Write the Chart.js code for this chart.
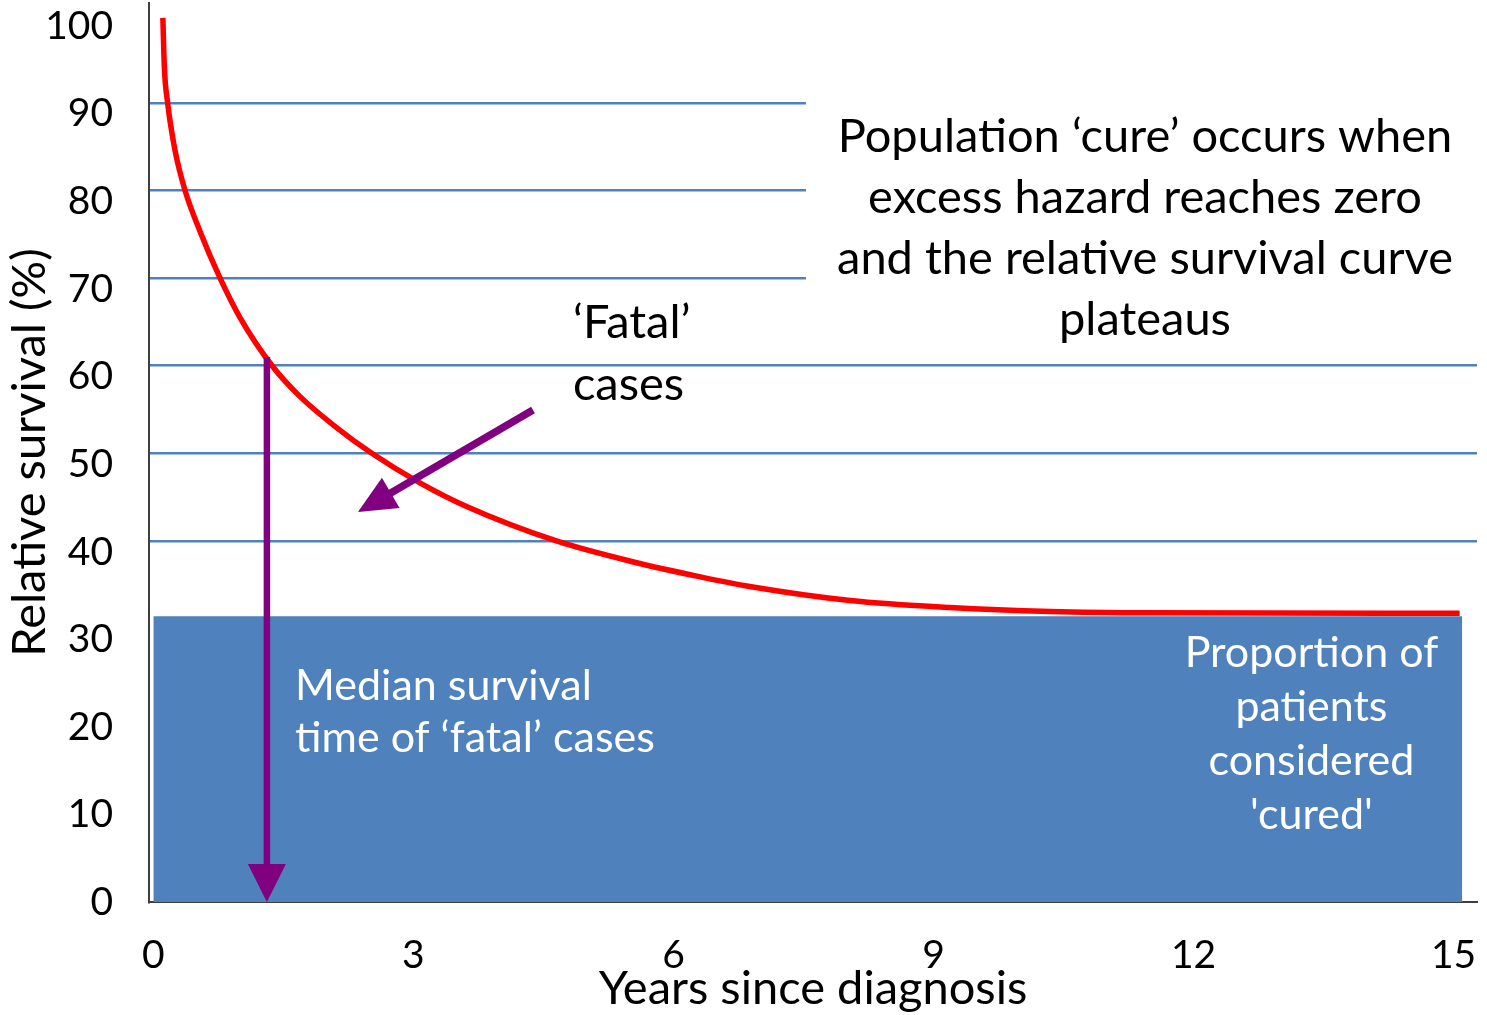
<!DOCTYPE html>
<html>
<head>
<meta charset="utf-8">
<script src="https://cdn.jsdelivr.net/npm/chart.js@4.4.1/dist/chart.umd.min.js"></script>
<style>
html, body { margin: 0; padding: 0; background: #fff; }
</style>
</head>
<body>
<canvas id="chart" width="1487" height="1015"></canvas>
<script>
// relative survival curve
const years    = [0.11, 0.127, 0.165, 0.25, 0.366, 0.54, 0.77, 1.0, 1.37, 1.69, 2.08, 2.52, 3.08, 3.62, 4.65, 5.54, 6.31, 6.88, 8.04, 9.19, 10.35, 11.5, 15.07];
const survival = [99.7, 94.1, 90.0, 84.6, 80.0, 75.3, 70.0, 65.5, 60.0, 56.5, 53.2, 50.0, 46.6, 43.9, 40.0, 37.6, 35.9, 34.8, 33.2, 32.4, 31.95, 31.8, 31.75];

// block of 'cured' patients
const curedYears = [0, 15.1];
const curedLevel = [31.4, 31.4];

// arrows: [start, tip] in data units
const medianArrow = [{x: 1.31, y: 61.0}, {x: 1.31, y: -1.2}];
const fatalArrow  = [{x: 4.38, y: 54.95}, {x: 2.36, y: 43.3}];

const xTicks = [0, 3, 6, 9, 12, 15];
const yTicks = [0, 10, 20, 30, 40, 50, 60, 70, 80, 90, 100];

const FONT = 'Lato';
const GRID_BLUE = '#4f81bd';
const FILL_BLUE = '#4f81bd';
const PURPLE = '#800080';

drawArrow = (ctx, x0, y0, x1, y1, width, headLen, headHalf) => {
    let ang = Math.atan2(y1 - y0, x1 - x0);
    let bx = x1 - (headLen - 1) * Math.cos(ang);
    let by = y1 - (headLen - 1) * Math.sin(ang);
    ctx.strokeStyle = PURPLE;
    ctx.fillStyle = PURPLE;
    ctx.lineWidth = width;
    ctx.lineCap = 'butt';
    ctx.beginPath();
    ctx.moveTo(x0, y0);
    ctx.lineTo(bx, by);
    ctx.stroke();
    bx = x1 - headLen * Math.cos(ang);
    by = y1 - headLen * Math.sin(ang);
    ctx.beginPath();
    ctx.moveTo(x1, y1);
    ctx.lineTo(bx + headHalf * Math.sin(ang), by - headHalf * Math.cos(ang));
    ctx.lineTo(bx - headHalf * Math.sin(ang), by + headHalf * Math.cos(ang));
    ctx.closePath();
    ctx.fill();
}

drawLines = (ctx, lines, px, py, lineHeight, align, color, size) => {
    ctx.font = size + 'px ' + FONT;
    ctx.fillStyle = color;
    ctx.textAlign = align;
    ctx.textBaseline = 'alphabetic';
    lines.forEach((t, i) => ctx.fillText(t, px, py + i * lineHeight));
}

const overlay = {
    id: 'overlay',
    beforeDatasetsDraw(chart) {
        // white text box of the 'cure' note hides the upper grid lines on the right
        const {ctx} = chart;
        ctx.save();
        ctx.fillStyle = '#fff';
        ctx.fillRect(806, 92, 681, 200);
        ctx.restore();
    },
    afterDatasetsDraw(chart) {
        const {ctx, scales: {x, y}} = chart;
        ctx.save();
        drawArrow(ctx,
            x.getPixelForValue(medianArrow[0].x), y.getPixelForValue(medianArrow[0].y),
            x.getPixelForValue(medianArrow[1].x), y.getPixelForValue(medianArrow[1].y), 6.5, 38, 19);
        drawArrow(ctx,
            x.getPixelForValue(fatalArrow[0].x), y.getPixelForValue(fatalArrow[0].y),
            x.getPixelForValue(fatalArrow[1].x), y.getPixelForValue(fatalArrow[1].y), 7.5, 38, 17.5);

        drawLines(ctx, ['Population \u2018cure\u2019 occurs when', 'excess hazard reaches zero',
            'and the relative survival curve', 'plateaus'],
            x.getPixelForValue(11.44), y.getPixelForValue(84.4), 61, 'center', '#000', 47);
        drawLines(ctx, ['\u2018Fatal\u2019', 'cases'],
            x.getPixelForValue(4.84), y.getPixelForValue(63.2), 62, 'left', '#000', 47);
        drawLines(ctx, ['Median survival', 'time of \u2018fatal\u2019 cases'],
            x.getPixelForValue(1.635), y.getPixelForValue(21.85), 52, 'left', '#fff', 43);
        drawLines(ctx, ['Proportion of', 'patients', 'considered', '\'cured\''],
            x.getPixelForValue(13.36), y.getPixelForValue(25.6), 54, 'center', '#fff', 43);
        ctx.restore();
    }
};

new Chart(document.getElementById('chart').getContext('2d'), {
    type: 'line',
    data: {
        datasets: [
            {
                label: 'cured',
                data: curedYears.map((v, i) => ({x: v, y: curedLevel[i]})),
                borderWidth: 0,
                borderColor: FILL_BLUE,
                backgroundColor: FILL_BLUE,
                fill: 'start',
                order: 2
            },
            {
                label: 'Relative survival',
                data: years.map((v, i) => ({x: v, y: survival[i]})),
                borderColor: '#ff0000',
                borderWidth: 5.5,
                cubicInterpolationMode: 'monotone',
                fill: false,
                order: 1
            }
        ]
    },
    options: {
        responsive: false,
        animation: false,
        layout: {
            padding: {top: 3, right: 10, left: 0, bottom: 0}
        },
        elements: {
            point: {radius: 0}
        },
        plugins: {
            legend: {display: false},
            tooltip: {enabled: false}
        },
        scales: {
            x: {
                type: 'linear',
                min: -0.05,
                max: 15.27,
                afterBuildTicks: scale => { scale.ticks = xTicks.map(v => ({value: v})); },
                afterFit: scale => {
                    scale.height = 113;
                    scale.paddingLeft = 0;
                    scale.paddingRight = 0;
                },
                grid: {display: false, drawTicks: false},
                border: {color: '#3f3f3f', width: 2},
                ticks: {
                    color: '#000',
                    font: {family: FONT, size: 39},
                    padding: 30,
                    maxRotation: 0,
                    autoSkip: false
                },
                title: {
                    display: true,
                    text: 'Years since diagnosis',
                    color: '#000',
                    font: {family: FONT, size: 47, lineHeight: 1.1},
                    padding: {top: 0, bottom: 0}
                }
            },
            y: {
                type: 'linear',
                min: -1.21,
                max: 101.4,
                afterBuildTicks: scale => { scale.ticks = yTicks.map(v => ({value: v})); },
                afterFit: scale => {
                    scale.width = 149;
                    scale.paddingTop = 0;
                    scale.paddingBottom = 0;
                },
                grid: {
                    drawTicks: false,
                    lineWidth: 2.5,
                    color: c => (c.tick && c.tick.value >= 40 && c.tick.value <= 90) ? GRID_BLUE : 'rgba(0,0,0,0)'
                },
                border: {color: '#3f3f3f', width: 2},
                ticks: {
                    color: '#000',
                    font: {family: FONT, size: 39},
                    padding: 36,
                    labelOffset: 11
                },
                title: {
                    display: true,
                    text: 'Relative survival (%)',
                    color: '#000',
                    font: {family: FONT, size: 47, lineHeight: 1.2},
                    padding: {top: 2, bottom: 0}
                }
            }
        }
    },
    plugins: [overlay]
});
</script>
</body>
</html>
